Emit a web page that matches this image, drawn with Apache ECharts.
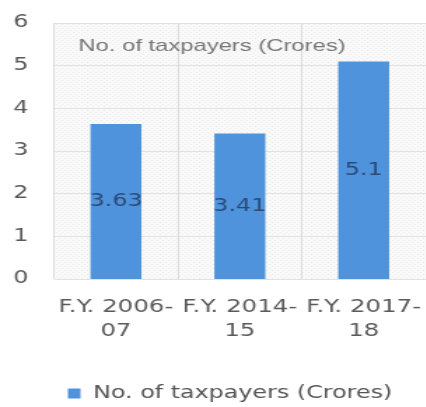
<!DOCTYPE html>
<html>
<head>
<meta charset="utf-8">
<script src="https://cdn.jsdelivr.net/npm/echarts@6/dist/echarts.min.js"></script>
<style>
  html, body { margin: 0; padding: 0; background: #fff; overflow: hidden; }
  /* the original picture is stretched sideways, so draw narrow and stretch */
  #chart { width: 304px; height: 407px; transform: scaleX(1.4); transform-origin: 0 0; }
</style>
</head>
<body>
<div id="chart"></div>
<script>
// data
const categories = ['F.Y. 2006-\n07', 'F.Y. 2014-\n15', 'F.Y. 2017-\n18'];
const taxpayers = [3.63, 3.41, 5.1];
const seriesName = 'No. of taxpayers (Crores)';

const wideFont = '"DejaVu Sans", Verdana, sans-serif';

const chart = echarts.init(document.getElementById('chart'));

// faint hatched plot background
function makePattern() {
    const c = document.createElement('canvas');
    c.width = 4; c.height = 4;
    const ctx = c.getContext('2d');
    ctx.fillStyle = '#f9f9f9';
    ctx.fillRect(0, 0, 4, 4);
    ctx.fillStyle = '#ececec';
    ctx.fillRect(0, 0, 1, 1);
    ctx.fillRect(2, 2, 1, 1);
    return c;
}

const option = {
    backgroundColor: '#fff',
    title: {
        text: 'No. of taxpayers (Crores)',
        left: 51, top: 33,
        textStyle: { fontFamily: 'Liberation Sans', fontSize: 17, fontWeight: 'normal', color: '#767676' }
    },
    grid: {
        left: 38.6, top: 23, width: 272, height: 256,
        show: true, borderWidth: 0,
        backgroundColor: { image: makePattern(), repeat: 'repeat' }
    },
    legend: {
        bottom: 0, left: 43.5,
        itemWidth: 9, itemHeight: 10, itemGap: 6,
        icon: 'rect',
        textStyle: { fontFamily: wideFont, fontSize: 17, color: '#555', padding: [0, 0, 0, 4] },
        data: [seriesName]
    },
    xAxis: {
        type: 'category',
        data: categories,
        axisLine: { show: false },
        axisTick: { show: false },
        splitLine: { show: true, lineStyle: { color: '#dddddd' } },
        axisLabel: {
            interval: 0, margin: 16, lineHeight: 24,
            fontFamily: wideFont, fontSize: 17.5, color: '#5a5a5a'
        }
    },
    yAxis: {
        type: 'value',
        min: 0, max: 6, interval: 1,
        axisLine: { show: false },
        axisTick: { show: false },
        splitLine: { show: true, lineStyle: { color: '#e2e2e2' } },
        axisLabel: {
            margin: 29, align: 'left',
            fontFamily: wideFont, fontSize: 17, color: '#595959'
        }
    },
    series: [{
        name: seriesName,
        type: 'bar',
        data: taxpayers,
        barWidth: 36.4,
        itemStyle: { color: '#4e93dc' },
        label: {
            show: true, position: 'inside',
            fontFamily: wideFont, fontSize: 17, color: '#2b4a75'
        }
    }]
};

chart.setOption(option);
</script>
</body>
</html>
